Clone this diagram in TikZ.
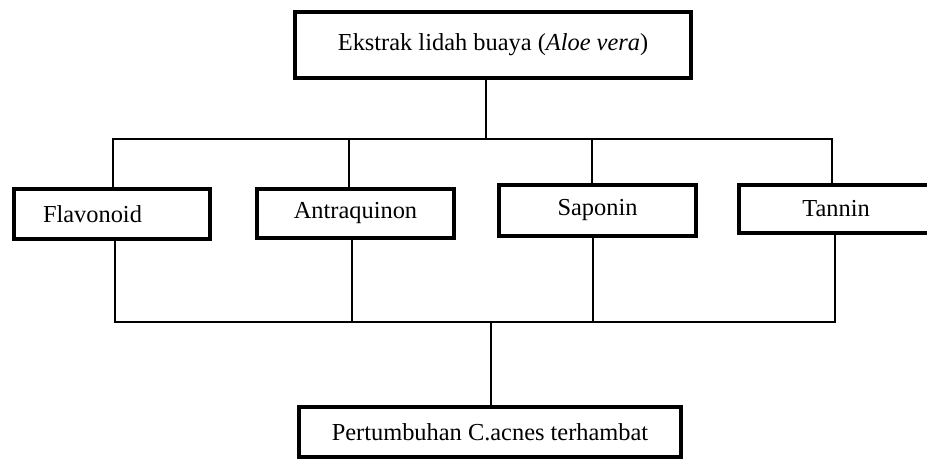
\documentclass[tikz,border=0pt]{standalone}
\usepackage{fontspec}
\setmainfont{Liberation Serif}
\usetikzlibrary{calc}

\begin{document}
\begin{tikzpicture}[
        x = 0.5pt, y = -0.5pt,
        every node/.style = {rectangle,outer sep=0pt,inner sep=0pt,font=\fontsize{12.2}{14}\selectfont},
        box/.style = {draw,line width=2pt,minimum height=25pt},
        link/.style = {line width=.8pt,line cap=rect},
        ]
        \useasboundingbox (0,0) rectangle (927,460);
        \node[box,minimum width=198pt,minimum height=33pt] (node-top) at (493,45) {Ekstrak lidah buaya (\textit{Aloe vera})};
        \node[box,text width=69pt,inner xsep=14.5pt,align=left] (node-flav) at (112,214) {Flavonoid};
        \node[box,minimum width=98.5pt,minimum height=24.5pt] (node-antra) at (355.5,213.5) {Antraquinon};
        \node[box,minimum width=98.5pt,minimum height=25.5pt] (node-sapo) at (597.5,210.5) {Saponin};
        \node[box,minimum width=97pt,minimum height=24pt] (node-tann) at (836,209) {Tannin};
        \node[box,minimum width=191pt] (node-bottom) at (490,432) {Pertumbuhan C.acnes terhambat};
        \coordinate (bus-top) at (486,139);
        \coordinate (bus-bottom) at (491,322);
        \draw[link]
        ($(node-top.south)+(-7,0)$) -- (bus-top)
        ($(node-flav.north)+(1,0)$) |- (bus-top)
        ($(node-tann.north)+(-4,0)$) |- (bus-top)
        ($(node-antra.north)+(-6.5,0)$) -- ($(node-antra.north |- bus-top)+(-6.5,0)$)
        ($(node-sapo.north)+(-5.5,0)$) -- ($(node-sapo.north |- bus-top)+(-5.5,0)$)
        ;
        \draw[link]
        ($(node-flav.south)+(3,0)$) |- (bus-bottom)
        ($(node-tann.south)+(-1,0)$) |- (bus-bottom)
        ($(node-antra.south)+(-3.5,0)$) -- ($(node-antra.south |- bus-bottom)+(-3.5,0)$)
        ($(node-sapo.south)+(-4.5,0)$) -- ($(node-sapo.south |- bus-bottom)+(-4.5,0)$)
        (bus-bottom) -- ($(node-bottom.north)+(1,0)$)
        ;
    \end{tikzpicture}
\end{document}
